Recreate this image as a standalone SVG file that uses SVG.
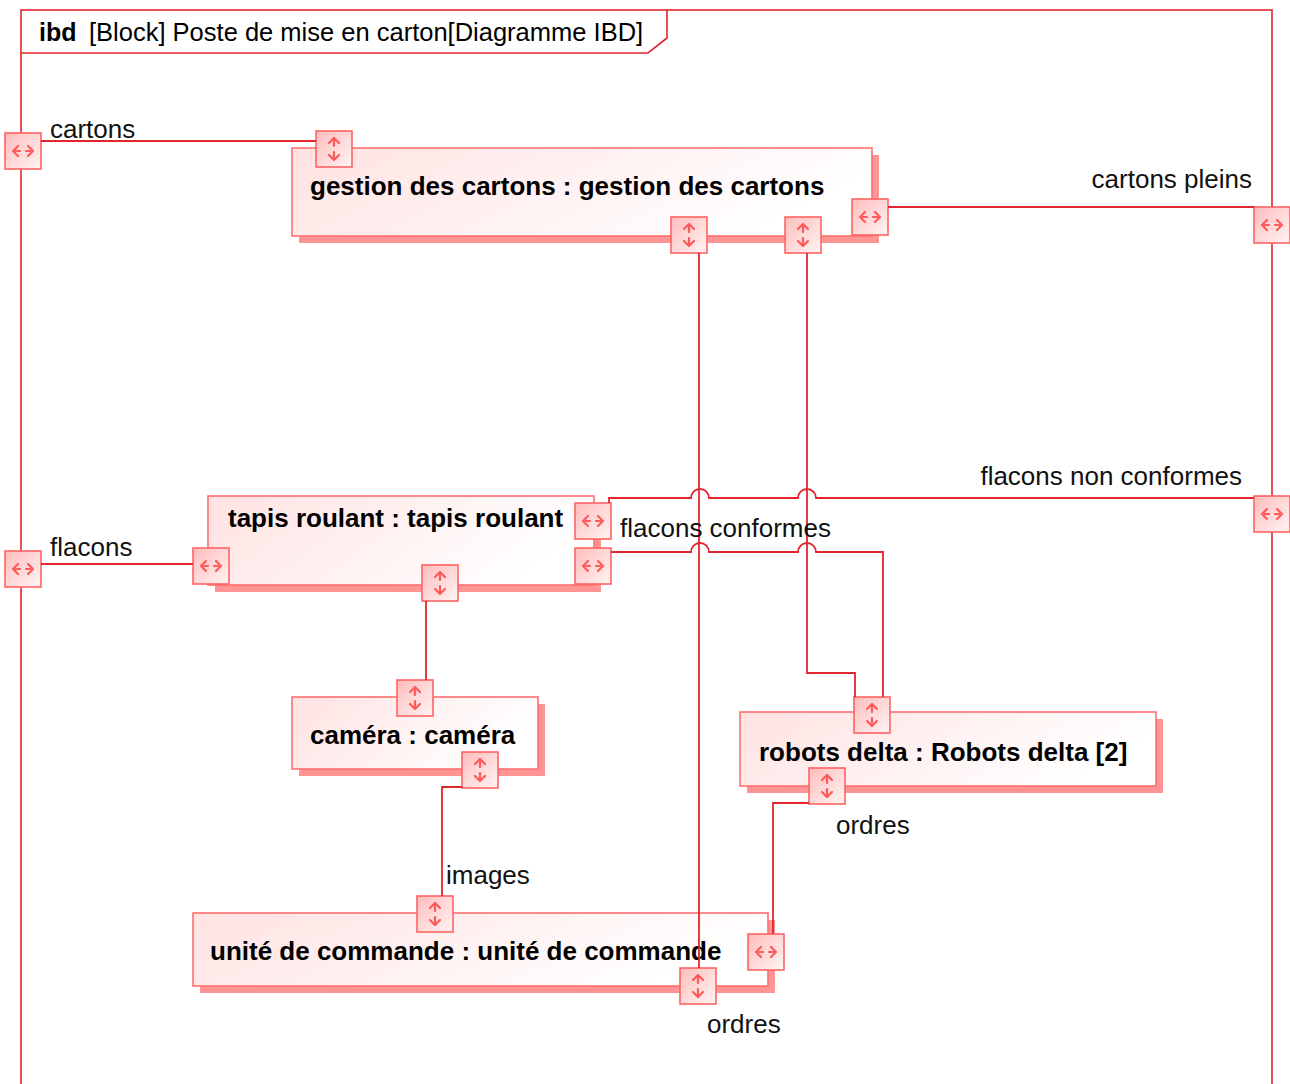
<svg xmlns="http://www.w3.org/2000/svg" xmlns:xlink="http://www.w3.org/1999/xlink" width="1290" height="1084" viewBox="0 0 1290 1084">
<style>
.frame{fill:none;stroke:#e3262d;stroke-width:1.6}
.conn{fill:none;stroke:#e3262d;stroke-width:1.8}
.blk{fill:url(#gBlk);stroke:#ff6f6f;stroke-width:1.6}
.shd{fill:#ff9494}
.prt{fill:url(#gPort);stroke:#ff6363;stroke-width:1.6}
.glyph{fill:none;stroke:#ff5a5a;stroke-width:2.2;stroke-linecap:round;stroke-linejoin:round}
.nm{font-family:"Liberation Sans",Arial,sans-serif;font-weight:bold;font-size:26px;fill:#000}
.lb{font-family:"Liberation Sans",Arial,sans-serif;font-size:26px;fill:#111}
</style>
<defs>
<linearGradient id="gBlk" x1="0" y1="0" x2="1" y2="0.3">
<stop offset="0" stop-color="#ffe2e2"/><stop offset="1" stop-color="#ffffff"/>
</linearGradient>
<linearGradient id="gPort" x1="0" y1="0" x2="1" y2="1">
<stop offset="0" stop-color="#ffbcbc"/><stop offset="1" stop-color="#fff4f4"/>
</linearGradient>
<symbol id="portH" viewBox="0 0 36 36" width="36" height="36" overflow="visible">
<rect class="prt" x="0" y="0" width="36" height="36"/>
<path class="glyph" d="M13 13 L8 18 L13 23 M23 13 L28 18 L23 23 M11 18 H15 M21 18 H25"/>
</symbol>
<symbol id="portV" viewBox="0 0 36 36" width="36" height="36" overflow="visible">
<rect class="prt" x="0" y="0" width="36" height="36"/>
<path class="glyph" d="M13 12 L18 7 L23 12 M18 8 V15 M13 24 L18 29 L23 24 M18 21 V28"/>
</symbol>
</defs>

<g id="frame">
<rect class="frame" x="21" y="10" width="1251" height="1100"/>
<path class="frame" d="M21 53 H648 L667 38 V10"/>
<text x="39" y="41" class="nm" style="font-size:25px">ibd</text>
<text x="89" y="41" class="lb" style="font-size:25.5px;fill:#000">[Block] Poste de mise en carton[Diagramme IBD]</text>
</g>

<g id="frame-ports">
<use xlink:href="#portH" x="5" y="133"/>
<use xlink:href="#portH" x="5" y="551"/>
<use xlink:href="#portH" x="1254" y="207"/>
<use xlink:href="#portH" x="1254" y="496"/>
</g>

<g id="gestion-des-cartons">
<rect class="shd" x="299" y="155" width="580" height="88"/>
<rect class="blk" x="292" y="148" width="580" height="88"/>
<text x="310" y="195" class="nm">gestion des cartons : gestion des cartons</text>
<use xlink:href="#portV" x="316" y="131"/>
<use xlink:href="#portV" x="671" y="217"/>
<use xlink:href="#portV" x="785" y="217"/>
<use xlink:href="#portH" x="852" y="199"/>
</g>

<g id="tapis-roulant">
<rect class="shd" x="215" y="503" width="386" height="89"/>
<rect class="blk" x="208" y="496" width="386" height="89"/>
<text x="228" y="527" class="nm">tapis roulant : tapis roulant</text>
<use xlink:href="#portH" x="193" y="548"/>
<use xlink:href="#portH" x="575" y="503"/>
<use xlink:href="#portH" x="575" y="548"/>
<use xlink:href="#portV" x="422" y="565"/>
</g>

<g id="camera">
<rect class="shd" x="299" y="704" width="246" height="72"/>
<rect class="blk" x="292" y="697" width="246" height="72"/>
<text x="310" y="744" class="nm">caméra : caméra</text>
<use xlink:href="#portV" x="397" y="680"/>
<use xlink:href="#portV" x="462" y="752"/>
</g>

<g id="robots-delta">
<rect class="shd" x="747" y="719" width="416" height="74"/>
<rect class="blk" x="740" y="712" width="416" height="74"/>
<text x="759" y="761" class="nm">robots delta : Robots delta [2]</text>
<use xlink:href="#portV" x="854" y="697"/>
<use xlink:href="#portV" x="809" y="768"/>
</g>

<g id="unite-de-commande">
<rect class="shd" x="200" y="920" width="575" height="73"/>
<rect class="blk" x="193" y="913" width="575" height="73"/>
<text x="210" y="960" class="nm">unité de commande : unité de commande</text>
<use xlink:href="#portV" x="417" y="896"/>
<use xlink:href="#portV" x="680" y="968"/>
<use xlink:href="#portH" x="748" y="934"/>
</g>

<g id="connectors">
<path class="conn" d="M41 141 H316"/>
<path class="conn" d="M888 207 H1254"/>
<path class="conn" d="M41 564 H193"/>
<path class="conn" d="M609 503 V498 H691 A9 9 0 0 1 709 498 H798 A9 9 0 0 1 816 498 H1254"/>
<path class="conn" d="M611 552 H691 A9 9 0 0 1 709 552 H798 A9 9 0 0 1 816 552 H883 V697"/>
<path class="conn" d="M699 253 V968"/>
<path class="conn" d="M807 253 V673 H855 V697"/>
<path class="conn" d="M426 601 V680"/>
<path class="conn" d="M462 787 H442 V896"/>
<path class="conn" d="M809 803 H773 V934"/>
<text x="50" y="138" class="lb">cartons</text>
<text x="1252" y="188" class="lb" text-anchor="end">cartons pleins</text>
<text x="50" y="556" class="lb">flacons</text>
<text x="1242" y="485" class="lb" text-anchor="end">flacons non conformes</text>
<text x="620" y="537" class="lb">flacons conformes</text>
<text x="446" y="884" class="lb">images</text>
<text x="836" y="834" class="lb">ordres</text>
<text x="707" y="1033" class="lb">ordres</text>
</g>
</svg>
